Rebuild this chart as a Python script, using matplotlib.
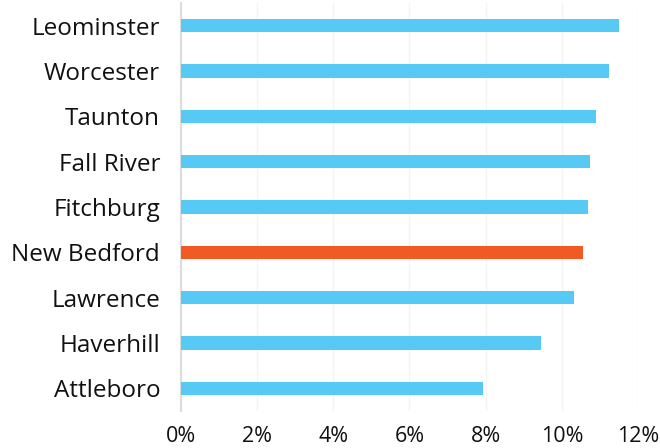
import matplotlib
matplotlib.use("Agg")
import matplotlib.pyplot as plt
from matplotlib.ticker import FuncFormatter

cities = ["Leominster", "Worcester", "Taunton", "Fall River", "Fitchburg",
          "New Bedford", "Lawrence", "Haverhill", "Attleboro"]
rates = [11.50, 11.23, 10.90, 10.75, 10.69, 10.56, 10.31, 9.45, 7.94]
highlight = "New Bedford"

blue = "#56CAF5"
orange = "#F15A22"

plt.rcParams['font.family'] = ['Open Sans', 'DejaVu Sans']

fig = plt.figure(figsize=(6.6, 4.48), dpi=100)
ax = fig.add_axes([181 / 660, 1 - 411 / 448, (638 - 181) / 660, 408 / 448])

pos = list(range(len(cities)))[::-1]
colors = [orange if c == highlight else blue for c in cities]
ax.barh(pos, rates, height=0.3, color=colors, zorder=3)

ax.set_xlim(0, 12)
ax.set_ylim(-0.5, len(cities) - 0.5)
ax.set_xticks(range(0, 13, 2))
ax.xaxis.set_major_formatter(FuncFormatter(lambda v, p: f"{v:.0f}%"))
ax.set_yticks(pos)
ax.set_yticklabels(cities)

ax.grid(axis="x", color="#f4f4f4", linewidth=1, zorder=0)
for s in ["top", "right", "bottom"]:
    ax.spines[s].set_visible(False)
ax.spines["left"].set_color("#dddddd")
ax.spines["left"].set_linewidth(1.5)

ax.tick_params(axis="y", length=0, pad=15, labelsize=17.5, labelcolor="#111111")
ax.tick_params(axis="x", length=0, pad=11, labelsize=15.5, labelcolor="#111111")

fig.savefig("out.png", dpi=100)
